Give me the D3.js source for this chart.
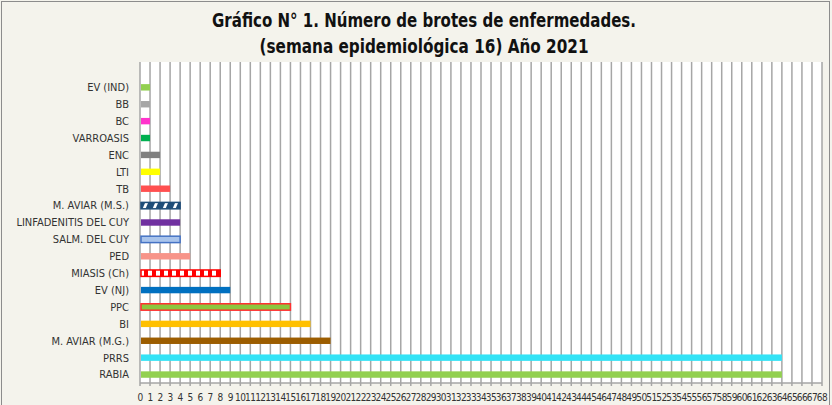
<!DOCTYPE html>
<html>
<head>
<meta charset="utf-8">
<script src="https://cdn.jsdelivr.net/npm/d3@7"></script>
<style>
  body { margin: 0; background: #f4f3ec; }
  svg { display: block; }
</style>
</head>
<body>
<div id="chart"></div>
<script>
// categories top to bottom
var categories = ["EV (IND)", "BB", "BC", "VARROASIS", "ENC", "LTI", "TB", "M. AVIAR (M.S.)",
  "LINFADENITIS  DEL CUY", "SALM. DEL CUY", "PED", "MIASIS (Ch)", "EV (NJ)", "PPC", "BI",
  "M. AVIAR (M.G.)", "PRRS", "RABIA"];
var values = [1, 1, 1, 1, 2, 2, 3, 4, 4, 4, 5, 8, 9, 15, 17, 19, 64, 64];
var fills = ["#92d050", "#a6a6a6", "#ff33cc", "#00b050", "#808080", "#ffff00", "#ff5050", "url(#diag)",
  "#7030a0", "#a9c4eb", "#f79489", "url(#check)", "#0070c0", "#8cc63f", "#ffc000",
  "#9c5d00", "#33e3f6", "#92d050"];
var strokes = [null, null, null, null, null, null, null, "#1f4e79",
  null, "#4472c4", null, "#ff0000", null, "#ff3030", null, null, null, null];
var xMax = 68;
var titleLines = ["Gráfico N° 1. Número de brotes de enfermedades.", "(semana epidemiológica 16) Año 2021"];
var titleWidths = [424, 329];

var w = 832, h = 405;
var plot = {left: 140, right: 822, top: 62, bottom: 383};
var font = "'Liberation Sans Narrow', 'DejaVu Sans Condensed', sans-serif";

var svg = d3.select("#chart").append("svg")
    .attr("width", w)
    .attr("height", h);

var defs = svg.append("defs");
// diagonal stripes for M. AVIAR (M.S.)
var diag = defs.append("pattern")
    .attr("id", "diag")
    .attr("patternUnits", "userSpaceOnUse")
    .attr("width", 10).attr("height", 7);
diag.append("rect").attr("width", 10).attr("height", 7).attr("fill", "#1f4e79");
diag.append("path").attr("d", "M2,7 L5,7 L8,0 L5,0 Z").attr("fill", "#ffffff");
// checker for MIASIS
var check = defs.append("pattern")
    .attr("id", "check")
    .attr("patternUnits", "userSpaceOnUse")
    .attr("width", 8).attr("height", 8);
check.append("rect").attr("width", 8).attr("height", 8).attr("fill", "#ff0000");
check.append("rect").attr("x", 4).attr("width", 4).attr("height", 8).attr("fill", "#ffffff");

// outer frame
svg.append("rect")
    .attr("x", 1.5).attr("y", 1.5)
    .attr("width", 828).attr("height", 420)
    .attr("fill", "#f4f3ec")
    .attr("stroke", "#8c8c8c");

// title
svg.selectAll(".title")
    .data(titleLines)
    .enter()
    .append("text")
    .attr("x", 424)
    .attr("y", function (d, i) { return 27 + i * 26; })
    .attr("text-anchor", "middle")
    .attr("textLength", function (d, i) { return titleWidths[i]; })
    .attr("lengthAdjust", "spacingAndGlyphs")
    .style("font-family", font)
    .style("font-weight", "bold")
    .style("font-size", "19px")
    .style("fill", "#111111")
    .text(function (d) { return d; });

var x = d3.scaleLinear().domain([0, xMax]).range([plot.left, plot.right]);
var step = (plot.bottom - plot.top) / (categories.length + 1);
var y = d3.scaleBand()
    .domain(categories)
    .range([plot.top + step, plot.bottom])
    .paddingInner(0.62)
    .paddingOuter(0.31);

// plot area
svg.append("rect")
    .attr("x", plot.left).attr("y", plot.top)
    .attr("width", plot.right - plot.left).attr("height", plot.bottom - plot.top)
    .attr("fill", "#ffffff");

// gridlines
svg.append("g")
    .selectAll("line")
    .data(d3.range(0, xMax + 1))
    .enter()
    .append("line")
    .attr("x1", function (d) { return x(d); })
    .attr("x2", function (d) { return x(d); })
    .attr("y1", plot.top)
    .attr("y2", plot.bottom + 3)
    .style("stroke", "#a6a6a6")
    .style("stroke-width", 1.5);

svg.append("line")
    .attr("x1", plot.left).attr("x2", plot.right)
    .attr("y1", plot.bottom).attr("y2", plot.bottom)
    .style("stroke", "#a6a6a6")
    .style("stroke-width", 1.5);

// bars
svg.append("g")
    .selectAll("rect")
    .data(categories)
    .enter()
    .append("rect")
    .attr("x", x(0) + 1)
    .attr("y", function (d) { return y(d); })
    .attr("width", function (d, i) { return x(values[i]) - x(0) - 1; })
    .attr("height", y.bandwidth())
    .attr("fill", function (d, i) { return fills[i]; })
    .attr("stroke", function (d, i) { return strokes[i] || "none"; })
    .attr("stroke-width", 1.5);

// category labels
svg.append("g")
    .selectAll("text")
    .data(categories)
    .enter()
    .append("text")
    .attr("x", 129)
    .attr("y", function (d) { return y(d) + y.bandwidth() / 2; })
    .attr("dy", "0.35em")
    .attr("text-anchor", "end")
    .style("font-family", font)
    .style("font-size", "11px")
    .style("fill", "#333333")
    .text(function (d) { return d; });

// x tick labels
svg.append("g")
    .selectAll("text")
    .data(d3.range(0, xMax + 1))
    .enter()
    .append("text")
    .attr("x", function (d) { return x(d); })
    .attr("y", 401)
    .attr("text-anchor", "middle")
    .style("font-family", font)
    .style("font-size", "10px")
    .style("letter-spacing", "-0.5px")
    .style("fill", "#333333")
    .text(function (d) { return d; });
</script>
</body>
</html>
